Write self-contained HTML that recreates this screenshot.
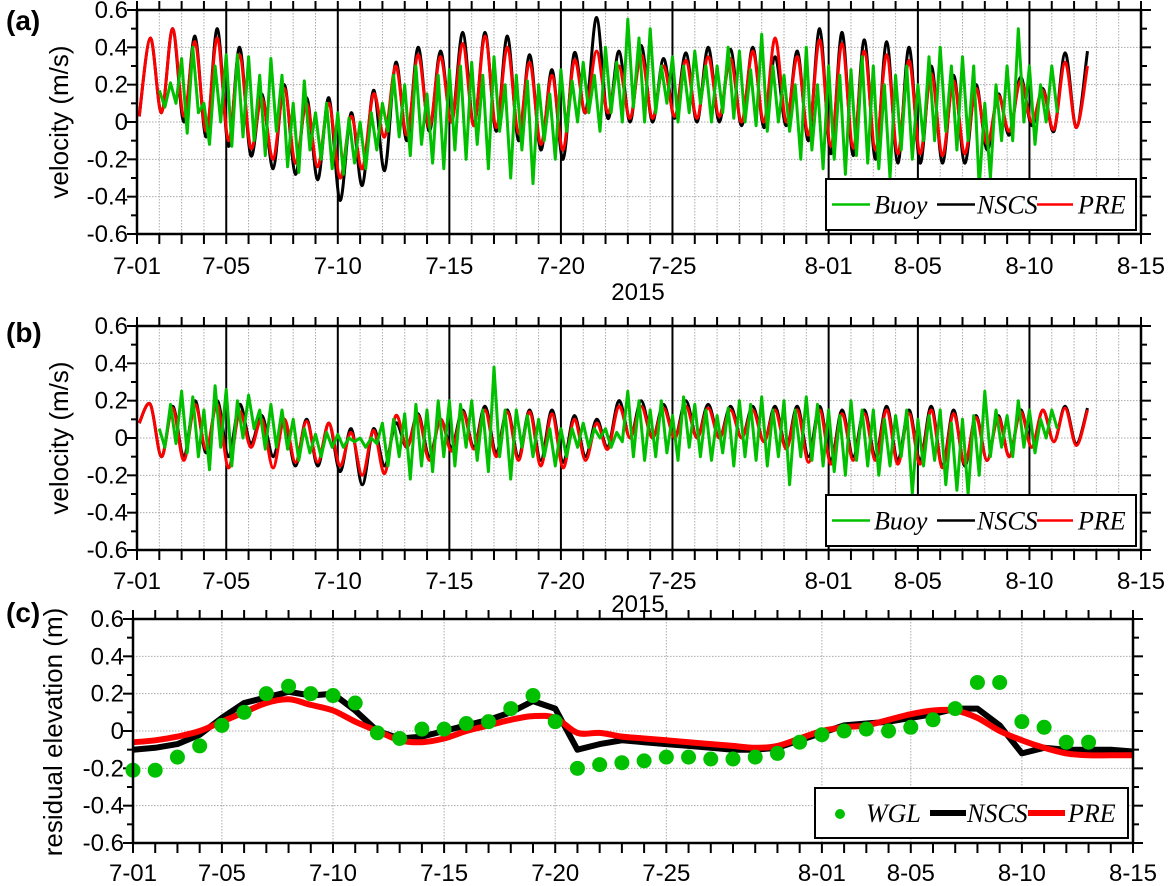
<!DOCTYPE html>
<html><head><meta charset="utf-8">
<style>
html,body{margin:0;padding:0;background:#fff;}
svg{display:block;font-family:"Liberation Sans",Arial,sans-serif;}
</style></head>
<body>
<svg id="chart" width="1168" height="886" viewBox="0 0 1168 886" xmlns="http://www.w3.org/2000/svg"></svg>
<script>
// ---------- DATA ----------
const tickDays = [0,4,9,14,19,24,31,35,40,45];
const tickLabels = ["7-01","7-05","7-10","7-15","7-20","7-25","8-01","8-05","8-10","8-15"];
const yTicks = [0.6,0.4,0.2,0,-0.2,-0.4,-0.6];
const yTickLabels = ["0.6","0.4","0.2","0","-0.2","-0.4","-0.6"];

const aModelStart = 0.1, aModelStep = 0.5;
const aNSCS = [0.03,0.45,0.05,0.50,0.0,0.46,-0.08,0.50,-0.13,0.40,
 -0.18,0.15,-0.25,0.20,-0.28,0.13,-0.31,0.13,-0.42,0.05,
 -0.34,0.17,-0.26,0.32,-0.10,0.40,-0.05,0.38,0.0,0.48,
 -0.02,0.48,-0.05,0.46,-0.10,0.36,-0.15,0.28,-0.20,0.37,
 0.05,0.56,0.02,0.38,0.0,0.41,0.0,0.34,0.02,0.37,
 0.0,0.40,0.0,0.39,-0.02,0.40,-0.03,0.35,-0.02,0.38,
 -0.10,0.50,-0.17,0.48,-0.18,0.44,-0.20,0.43,-0.22,0.40,
 -0.22,0.30,-0.22,0.25,-0.22,0.20,-0.15,0.15,-0.07,0.24,
 -0.02,0.18,-0.05,0.37,-0.03,0.38];
const aPRE = [0.03,0.45,0.05,0.50,0.03,0.43,-0.05,0.45,-0.10,0.36,
 -0.14,0.13,-0.20,0.18,-0.22,0.10,-0.24,0.10,-0.30,0.03,
 -0.25,0.15,-0.08,0.30,-0.07,0.36,-0.03,0.35,0.0,0.42,
 -0.02,0.46,-0.03,0.40,-0.06,0.32,-0.12,0.25,-0.15,0.33,
 0.05,0.38,0.05,0.30,0.02,0.36,0.02,0.30,0.03,0.33,
 0.02,0.35,0.03,0.34,0.0,0.38,0.0,0.45,0.0,0.35,
 -0.07,0.44,-0.13,0.42,-0.14,0.38,-0.15,0.36,-0.17,0.33,
 -0.17,0.26,-0.18,0.22,-0.17,0.18,-0.12,0.14,-0.05,0.22,
 0.0,0.17,-0.04,0.32,-0.03,0.30];
const aBuoyStart = 1.0, aBuoyStep = 0.25;
const aBuoy = [0.17,0.08,0.21,0.1, 0.34,-0.06,0.4,0.05, 0.1,-0.12,0.3,0.0, 0.36,-0.13,0.36,-0.08,
 0.35,-0.1,0.25,-0.18, 0.34,-0.05,0.25,-0.24, 0.1,-0.27,0.22,-0.15, 0.05,-0.2,0.1,-0.25,
 0.05,-0.28,0.02,-0.22, 0.0,-0.25,0.05,-0.15, 0.1,-0.05,0.25,-0.08, 0.2,-0.18,0.3,-0.12,
 0.15,-0.22,0.25,-0.25, 0.28,-0.15,0.3,-0.2, 0.32,-0.12,0.25,-0.25, 0.35,-0.05,0.2,-0.3,
 0.25,-0.15,0.22,-0.33, 0.2,-0.1,0.15,-0.2, 0.28,-0.05,0.22,0.0, 0.32,0.05,0.25,-0.05,
 0.4,0.05,0.32,0.0, 0.55,0.08,0.45,0.0, 0.5,0.05,0.3,0.1, 0.35,0.0,0.3,0.05,
 0.38,0.1,0.3,0.0, 0.3,0.05,0.4,0.02, 0.38,0.0,0.28,-0.02, 0.47,-0.05,0.3,0.0,
 0.25,-0.05,0.2,-0.2, 0.4,-0.15,0.2,-0.25, 0.3,-0.2,0.25,-0.28, 0.28,-0.18,0.35,-0.22,
 0.3,-0.25,0.2,-0.3, 0.25,-0.15,0.3,-0.2, 0.2,-0.1,0.35,-0.1, 0.4,-0.05,0.3,-0.15,
 0.35,-0.1,0.3,-0.35, 0.1,-0.3,0.2,-0.1, 0.3,-0.1,0.5,0.0, 0.3,-0.12,0.2,0.0, 0.3,0.05];

const bModelStart = 0.1, bModelStep = 0.5;
const bNSCS = [0.08,0.18,-0.10,0.17,-0.10,0.20,-0.08,0.20,-0.10,0.18,
 -0.03,0.12,-0.10,0.10,-0.15,0.10,-0.15,0.08,-0.18,0.05,
 -0.25,0.05,-0.15,0.08,-0.05,0.13,-0.10,0.10,-0.05,0.15,
 -0.05,0.17,-0.08,0.15,-0.10,0.15,-0.12,0.15,-0.13,0.12,
 -0.10,0.10,-0.05,0.20,0.0,0.20,0.0,0.18,0.0,0.20,
 0.0,0.18,0.0,0.17,0.0,0.17,-0.02,0.17,-0.05,0.17,
 -0.10,0.17,-0.12,0.15,-0.10,0.15,-0.10,0.17,-0.12,0.15,
 -0.12,0.17,-0.15,0.15,-0.15,0.12,-0.12,0.12,-0.10,0.15,
 -0.05,0.15,-0.02,0.17,-0.03,0.16];
const bPRE = [0.08,0.18,-0.10,0.16,-0.12,0.18,-0.06,0.18,-0.16,0.14,
 -0.05,0.10,-0.16,0.10,-0.13,0.09,-0.13,0.08,-0.15,0.03,
 -0.20,0.04,-0.19,0.12,-0.05,0.12,-0.12,0.10,-0.07,0.14,
 -0.06,0.15,-0.10,0.14,-0.12,0.14,-0.15,0.13,-0.16,0.10,
 -0.12,0.08,-0.06,0.17,0.0,0.17,0.0,0.16,0.0,0.17,
 0.0,0.16,0.0,0.15,0.0,0.15,-0.02,0.15,-0.06,0.15,
 -0.13,0.15,-0.14,0.13,-0.12,0.13,-0.12,0.15,-0.14,0.13,
 -0.14,0.15,-0.16,0.13,-0.14,0.11,-0.12,0.11,-0.10,0.14,
 -0.05,0.15,-0.02,0.16,-0.04,0.15];
const bBuoyStart = 1.0, bBuoyStep = 0.25;
const bBuoy = [0.05,-0.05,0.18,-0.03, 0.25,-0.08,0.22,-0.1, 0.15,-0.17,0.28,-0.05, 0.26,-0.15,0.2,0.0,
 0.23,0.05,0.15,-0.06, 0.18,-0.05,0.15,-0.06, 0.1,-0.12,0.05,-0.08, 0.02,-0.1,0.03,-0.05,
 0.02,-0.05,0.0,-0.02, 0.0,-0.05,0.0,-0.03, 0.08,-0.15,0.1,-0.1, 0.13,-0.22,0.18,-0.15,
 0.15,-0.18,0.2,-0.1, 0.2,-0.15,0.18,-0.05, 0.2,-0.12,0.15,-0.18, 0.38,-0.1,0.15,-0.22,
 0.15,-0.05,0.12,-0.1, 0.1,-0.1,0.05,-0.15, 0.05,-0.1,0.05,-0.05, 0.08,-0.05,0.05,0.0,
 0.05,-0.05,0.03,-0.02, 0.25,-0.1,0.2,-0.12, 0.15,-0.1,0.2,-0.08, 0.12,-0.12,0.22,-0.05,
 0.18,-0.1,0.15,-0.12, 0.12,-0.08,0.16,-0.15, 0.2,-0.1,0.18,-0.12, 0.22,-0.15,0.15,-0.1,
 0.2,-0.25,0.15,-0.1, 0.22,-0.12,0.18,-0.15, 0.15,-0.18,0.12,-0.2, 0.2,-0.12,0.15,-0.15,
 0.15,-0.2,0.1,-0.15, 0.12,-0.1,0.15,-0.3, 0.1,-0.15,0.12,-0.12, 0.15,-0.25,0.08,-0.28,
 0.1,-0.3,0.12,-0.2, 0.25,-0.1,0.15,-0.05, 0.12,-0.1,0.2,-0.05, 0.15,-0.08,0.1,0.0, 0.15,0.05];

const cWGL = [-0.21,-0.21,-0.14,-0.08,0.03,0.10,0.20,0.24,0.20,0.19,
 0.15,-0.01,-0.04,0.01,0.01,0.04,0.05,0.12,0.19,0.05,
 -0.20,-0.18,-0.17,-0.16,-0.14,-0.14,-0.15,-0.15,-0.14,-0.12,
 -0.06,-0.02,0.0,0.01,0.0,0.02,0.06,0.12,0.26,0.26,
 0.05,0.02,-0.06,-0.06];
const cNSCS = [-0.10,-0.09,-0.07,-0.02,0.07,0.15,0.18,0.21,0.19,0.20,
 0.11,0.0,-0.04,-0.03,0.0,0.03,0.06,0.10,0.16,0.12,
 -0.10,-0.07,-0.05,-0.06,-0.07,-0.08,-0.09,-0.10,-0.10,-0.09,
 -0.05,-0.01,0.03,0.04,0.05,0.07,0.09,0.12,0.12,0.03,
 -0.12,-0.09,-0.10,-0.10,-0.10,-0.11];
const cPRE = [-0.06,-0.05,-0.03,0.0,0.05,0.10,0.15,0.17,0.14,0.11,
 0.05,0.0,-0.05,-0.06,-0.04,0.0,0.03,0.06,0.08,0.07,
 -0.01,-0.01,-0.03,-0.04,-0.05,-0.06,-0.07,-0.08,-0.09,-0.08,
 -0.04,0.0,0.02,0.03,0.06,0.09,0.11,0.11,0.07,0.0,
 -0.05,-0.09,-0.12,-0.13,-0.13,-0.13];

// ---------- DRAWING ----------
const NS = "http://www.w3.org/2000/svg";
const svg = document.getElementById("chart");
function el(tag, attrs, parent){
  const e = document.createElementNS(NS, tag);
  for (const k in attrs) e.setAttribute(k, attrs[k]);
  (parent||svg).appendChild(e);
  return e;
}
function smoothPath(pts){
  if (pts.length<2) return "";
  let d = "M"+pts[0][0].toFixed(1)+","+pts[0][1].toFixed(1);
  for (let i=0;i<pts.length-1;i++){
    const p0=pts[Math.max(0,i-1)], p1=pts[i], p2=pts[i+1], p3=pts[Math.min(pts.length-1,i+2)];
    const c1x=p1[0]+(p2[0]-p0[0])/6, c1y=p1[1]+(p2[1]-p0[1])/6;
    const c2x=p2[0]-(p3[0]-p1[0])/6, c2y=p2[1]-(p3[1]-p1[1])/6;
    d += "C"+c1x.toFixed(1)+","+c1y.toFixed(1)+" "+c2x.toFixed(1)+","+c2y.toFixed(1)+" "+p2[0].toFixed(1)+","+p2[1].toFixed(1);
  }
  return d;
}
function linePath(pts){
  return pts.map((p,i)=>(i?"L":"M")+p[0].toFixed(1)+","+p[1].toFixed(1)).join("");
}

function panel(cfg){
  const g = el("g",{});
  
  
  const L=cfg.left, R=cfg.right, T=cfg.top, B=cfg.bottom;
  const dayPx=(R-L)/45;
  const X = d => L + d*dayPx;
  const Y = v => T + (0.6 - v)/1.2*(B-T);
  cfg.X=X; cfg.Y=Y;
  const grid = el("g",{stroke:"#aaa","stroke-width":1,"stroke-dasharray":"1.5,1.5"},g);
  
  
  const gridDays = cfg.dailyGrid ? Array.from({length:44},(_,i)=>i+1) : tickDays.slice(1,-1);
  gridDays.forEach(d=>el("line",{x1:X(d),x2:X(d),y1:T,y2:B},grid));
  yTicks.slice(1,-1).forEach(v=>el("line",{x1:L,x2:R,y1:Y(v),y2:Y(v)},grid));
  if (cfg.majorLines){
    tickDays.slice(1,-1).forEach(d=>{
      const ln=el("line",{x1:X(d),x2:X(d),y1:T,y2:B,stroke:"#000","stroke-width":2},g);
      
      
    });
  }
  const tk = el("g",{stroke:"#000","stroke-width":2},g);
  for (let d=0; d<=45; d++){
    el("line",{x1:X(d),x2:X(d),y1:B,y2:B+10},tk);
    el("line",{x1:X(d),x2:X(d),y1:T,y2:T-9},tk);
  }
  for (let k=-6;k<=6;k++){
    const v=k/10, len = (k%2===0)?10:6;
    el("line",{x1:L-len,x2:L,y1:Y(v),y2:Y(v)},tk);
    el("line",{x1:R,x2:R+len,y1:Y(v),y2:Y(v)},tk);
  }
  yTicks.forEach((v,i)=>{
    const t=el("text",{x:L-9,y:Y(v)+8,"font-size":24,"text-anchor":"end",fill:"#000"},g);
    t.textContent=yTickLabels[i];
    
    
  });
  tickDays.forEach((d,i)=>{
    const t=el("text",{x:X(d),y:cfg.xLabelY,"font-size":24,"text-anchor":"middle",fill:"#000"},g);
    t.textContent=tickLabels[i];
    
    
  });
  const yt=el("text",{x:0,y:0,"font-size":cfg.yTitleSize,"text-anchor":"middle",fill:"#000",transform:"translate("+cfg.yTitleX+","+cfg.yTitleY+") rotate(-90)"},g);
  yt.textContent=cfg.yTitle;
  
  
  const pl=el("text",{x:6,y:cfg.letterY,"font-size":28,"font-weight":"bold",fill:"#000"},g);
  pl.textContent=cfg.letter;
  
  
  if (cfg.yearY){
    const yr=el("text",{x:638,y:cfg.yearY,"font-size":24,"text-anchor":"middle",fill:"#000"},g);
    yr.textContent="2015";
    
    
  }
  cfg.g=g;
  return cfg;
}
function frame(cfg){
  const f=el("rect",{x:cfg.left,y:cfg.top,width:cfg.right-cfg.left,height:cfg.bottom-cfg.top,fill:"none",stroke:"#000","stroke-width":2.5},cfg.g);
  
  
}
function series(cfg, vals, start, step, color, width, name, smooth){
  const pts = vals.map((v,i)=>[cfg.X(start+i*step), cfg.Y(v)]);
  const p=el("path",{d: smooth?smoothPath(pts):linePath(pts),fill:"none",stroke:color,"stroke-width":width,"stroke-linejoin":"round"},cfg.g);
  
  
}
function legend(cfg, x, y, w, h, items){
  const lg=el("g",{},cfg.g);
  
  
  el("rect",{x:x,y:y,width:w,height:h,fill:"#fff",stroke:"#000","stroke-width":2},lg);
  items.forEach(it=>{
    const e=el("g",{},lg);
    
    
    if (it.dot) el("circle",{cx:it.x0+12,cy:y+h/2+1,r:5,fill:it.color},e);
    else el("line",{x1:it.x0,x2:it.x1,y1:y+h/2,y2:y+h/2,stroke:it.color,"stroke-width":it.w},e);
    const t=el("text",{x:it.tx,y:y+h/2+9,"font-size":26,"font-style":"italic","font-family":"'Liberation Serif',serif",fill:"#000"},e);
    t.textContent=it.label;
  });
}

// Panel a
const pa = panel({name:"panel-a",left:137,right:1141,top:10,bottom:234,xLabelY:274,yTitle:"velocity (m/s)",yTitleSize:26,yTitleX:68,yTitleY:122,letter:"(a)",letterY:30,yearY:300,dailyGrid:true,majorLines:true});
series(pa,aNSCS,aModelStart,aModelStep,"#000",3,"nscs-line",true);
series(pa,aPRE,aModelStart,aModelStep,"#ff0000",3,"pre-line",true);
series(pa,aBuoy,aBuoyStart,aBuoyStep,"#00c000",3,"buoy-line",false);
frame(pa);
legend(pa,826,179,310,51,[
 {x0:832,x1:870,color:"#00c000",w:2.5,tx:874,label:"Buoy"},
 {x0:937,x1:975,color:"#000",w:2.5,tx:977,label:"NSCS"},
 {x0:1037,x1:1073,color:"#ff0000",w:2.5,tx:1078,label:"PRE"}]);

// Panel b
const pb = panel({name:"panel-b",left:137,right:1141,top:326,bottom:550,xLabelY:589,yTitle:"velocity (m/s)",yTitleSize:26,yTitleX:68,yTitleY:438,letter:"(b)",letterY:342,yearY:612,dailyGrid:true,majorLines:true});
series(pb,bNSCS,bModelStart,bModelStep,"#000",3,"nscs-line",true);
series(pb,bPRE,bModelStart,bModelStep,"#ff0000",3,"pre-line",true);
series(pb,bBuoy,bBuoyStart,bBuoyStep,"#00c000",3,"buoy-line",false);
frame(pb);
legend(pb,826,495,310,51,[
 {x0:832,x1:870,color:"#00c000",w:2.5,tx:874,label:"Buoy"},
 {x0:937,x1:975,color:"#000",w:2.5,tx:977,label:"NSCS"},
 {x0:1037,x1:1073,color:"#ff0000",w:2.5,tx:1078,label:"PRE"}]);

// Panel c
const pc = panel({name:"panel-c",left:133,right:1133,top:619,bottom:843,xLabelY:881,yTitle:"residual elevation (m)",yTitleSize:26,yTitleX:62,yTitleY:732,letter:"(c)",letterY:622,dailyGrid:false,majorLines:false});
series(pc,cNSCS,0,1,"#000",6,"nscs-line",false);
series(pc,cPRE,0,1,"#ff0000",6,"pre-line",true);
cWGL.forEach((v,i)=>{
  const c=el("circle",{cx:pc.X(i),cy:pc.Y(v),r:7.5,fill:"#00c000"},pc.g);
  
  
});
frame(pc);
legend(pc,815,788,313,50,[
 {dot:true,x0:828,color:"#00c000",tx:866,label:"WGL"},
 {x0:930,x1:966,color:"#000",w:6,tx:967,label:"NSCS"},
 {x0:1028,x1:1065,color:"#ff0000",w:6,tx:1068,label:"PRE"}]);
</script>
</body></html>
